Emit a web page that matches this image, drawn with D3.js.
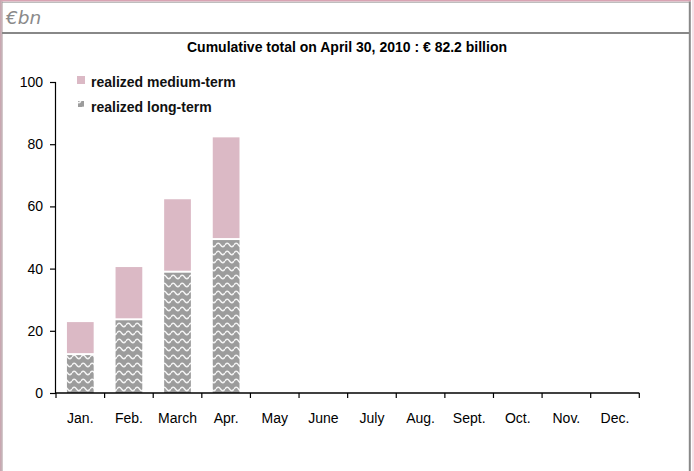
<!DOCTYPE html>
<html><head><meta charset="utf-8">
<script src="https://cdn.jsdelivr.net/npm/d3@7"></script>
<style>html,body{margin:0;padding:0;background:#fff;}svg{display:block;font-family:"Liberation Sans",Arial,sans-serif;}</style>
</head><body>
<svg id="c" width="694" height="471"></svg>
<script>
const months = ["Jan.","Feb.","March","Apr.","May","June","July","Aug.","Sept.","Oct.","Nov.","Dec."];
const longTerm = [12.5, 23.7, 39.0, 49.5, null, null, null, null, null, null, null, null];
const mediumTerm = [10.3, 16.8, 23.3, 32.7, null, null, null, null, null, null, null, null];
const yTicks = [0, 20, 40, 60, 80, 100];
const seriesNames = ["realized medium-term", "realized long-term"];
const titleText = "Cumulative total on April 30, 2010 : € 82.2 billion";
const unitText = "€bn";

const svg = d3.select("#c");
const pink = "#dbb9c5";

// frame
svg.append("rect").attr("x",0).attr("y",0).attr("width",694).attr("height",471).attr("fill","#fff");
svg.append("rect").attr("x",692).attr("y",0).attr("width",2).attr("height",471).attr("fill","#f7e3ea");
svg.append("rect").attr("x",0).attr("y",0).attr("width",691).attr("height",1.5).attr("fill","#d9a3b3");
svg.append("rect").attr("x",0).attr("y",0).attr("width",1.5).attr("height",471).attr("fill","#c9a7b1");
svg.append("line").attr("x1",2).attr("x2",2).attr("y1",1.5).attr("y2",471).attr("stroke","#a89096").attr("stroke-width",1);
svg.append("line").attr("x1",689.8).attr("x2",689.8).attr("y1",1.5).attr("y2",471).attr("stroke","#888").attr("stroke-width",2);
svg.append("line").attr("x1",2).attr("x2",689).attr("y1",2.3).attr("y2",2.3).attr("stroke","#999").attr("stroke-width",0.8);
svg.append("line").attr("x1",2).attr("x2",689).attr("y1",33).attr("y2",33).attr("stroke","#888").attr("stroke-width",2);

svg.append("text").attr("x",6).attr("y",24).attr("font-size",18.5).attr("font-style","italic")
  .attr("font-family","DejaVu Sans, sans-serif")
  .attr("fill","#8a8a8a").text(unitText);

svg.append("text").attr("x",347).attr("y",52).attr("text-anchor","middle").attr("font-size",14)
  .attr("font-weight","bold").attr("fill","#000").text(titleText);

// pattern
const defs = svg.append("defs");
const pat = defs.append("pattern").attr("id","wave").attr("patternUnits","userSpaceOnUse")
  .attr("width",9).attr("height",8);
pat.append("rect").attr("width",9).attr("height",8).attr("fill","#9c9c9c");
pat.append("path").attr("d","M0,5 Q2.25,1.5 4.5,5 T9,5").attr("fill","none")
  .attr("stroke","#f4f4f4").attr("stroke-width",1.4);

const x = d3.scaleBand().domain(months).range([56, 639.3]).paddingInner(0.45).paddingOuter(0.225);
const y = d3.scaleLinear().domain([0,100]).range([393, 82]);

// bars
const data = months.map((m,i)=>({m, lt:longTerm[i], mt:mediumTerm[i]})).filter(d=>d.lt!=null);
const g = svg.append("g");
g.selectAll(".lt").data(data).enter().append("rect")
  .attr("x",d=>x(d.m)).attr("width",x.bandwidth())
  .attr("y",d=>y(d.lt)+1).attr("height",d=>y(0)-y(d.lt)-1)
  .attr("fill","url(#wave)");
g.selectAll(".mt").data(data).enter().append("rect")
  .attr("x",d=>x(d.m)).attr("width",x.bandwidth())
  .attr("y",d=>y(d.lt+d.mt)).attr("height",d=>y(d.lt)-y(d.lt+d.mt)-1)
  .attr("fill",pink);

// y axis
const ya = svg.append("g").attr("transform","translate(56,0)")
  .call(d3.axisLeft(y).tickValues(yTicks).tickSize(6).tickPadding(7).tickFormat(d3.format("d")));
ya.select(".domain").attr("stroke","#000").attr("stroke-width",1.2).attr("d","M-0.5,"+y(100)+"V"+y(0));
ya.selectAll(".tick line").attr("stroke","#000").attr("stroke-width",1.2);
ya.selectAll("text").attr("font-size",14).attr("fill","#000").attr("font-family","Liberation Sans, Arial, sans-serif");

// x axis
const xa = svg.append("g").attr("transform","translate(0,"+y(0)+")")
  .call(d3.axisBottom(x).tickSize(0).tickPadding(20));
xa.select(".domain").remove();
xa.selectAll("text").attr("font-size",14).attr("fill","#000").attr("font-family","Liberation Sans, Arial, sans-serif");
const bounds = months.map(m=>x(m)-x.step()*x.paddingInner()/2).concat([x(months[11])+x.bandwidth()+x.step()*x.paddingInner()/2]);
xa.append("line").attr("x1",bounds[0]-1).attr("x2",bounds[12]).attr("y1",0).attr("y2",0).attr("stroke","#000").attr("stroke-width",1.5);
xa.selectAll(".bt").data(bounds).enter().append("line")
  .attr("x1",d=>d).attr("x2",d=>d).attr("y1",0).attr("y2",5).attr("stroke","#000").attr("stroke-width",1.2);

// legend
const leg = svg.append("g");
leg.append("rect").attr("x",77).attr("y",76).attr("width",8).attr("height",8).attr("fill",pink);
leg.append("rect").attr("x",78).attr("y",101).attr("width",6).attr("height",6).attr("fill","url(#wave)");
leg.selectAll("text").data(seriesNames).enter().append("text")
  .attr("x",91).attr("y",(d,i)=>87+i*24.5).attr("font-size",14).attr("font-weight","bold")
  .attr("fill","#111").text(d=>d);
</script>
</body></html>
